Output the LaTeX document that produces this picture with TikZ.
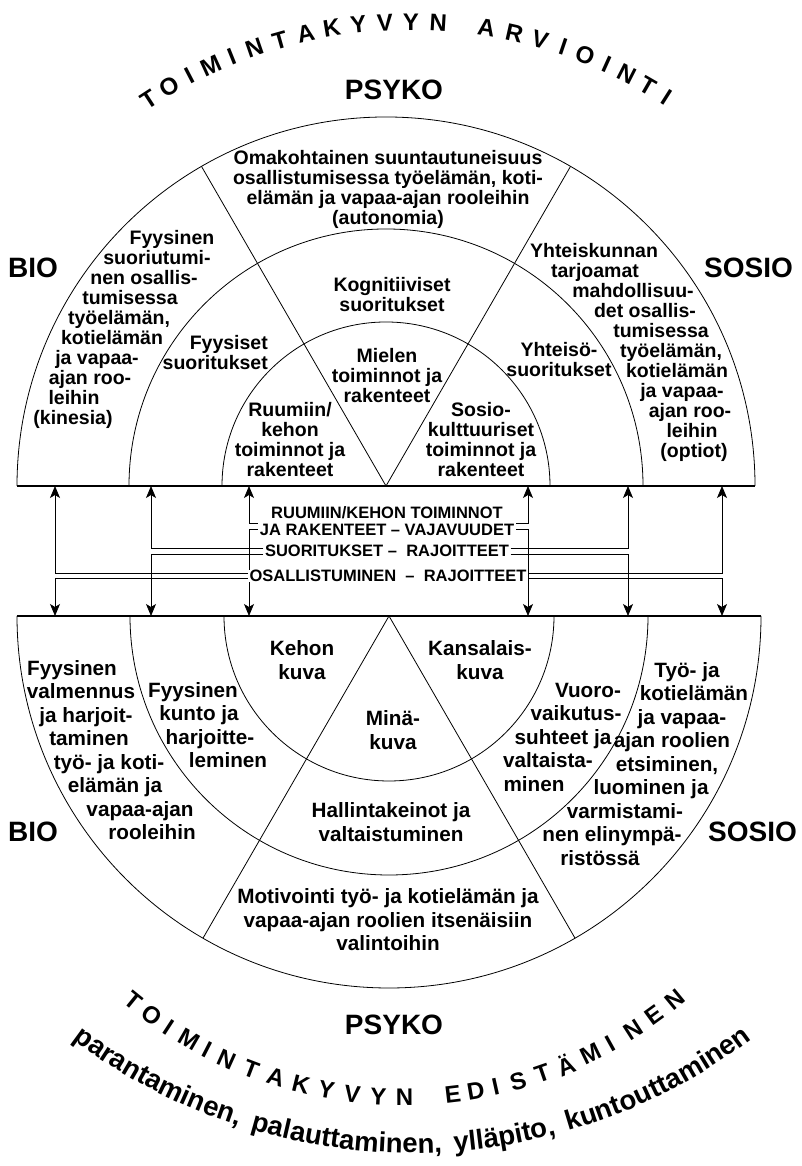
\documentclass[tikz,border=0pt]{standalone}
\usepackage{fontspec}
\setmainfont{Liberation Sans}
\usetikzlibrary{arrows.meta, backgrounds, decorations.text}

\begin{document}
\begin{tikzpicture}[x=1pt, y=1pt,
  ring/.style={line width=0.8pt},
  baseln/.style={line width=1.4pt},
  sidelab/.style={font=\fontsize{28}{28}\selectfont\bfseries, inner sep=0pt},
  utxt/.style={font=\fontsize{19.5}{20}\selectfont\bfseries, inner sep=0pt, align=center},
  ltxt/.style={font=\fontsize{20.7}{23.5}\selectfont\bfseries, inner sep=0pt, align=center},
  uline/.style={utxt, text height=14pt, text depth=4pt},
  lline/.style={ltxt, text height=15pt, text depth=4pt},
  barlab/.style={font=\fontsize{16.5}{17}\selectfont\bfseries, fill=white, inner xsep=1.5pt, inner ysep=0.5pt, align=center},
  arcch/.style={font=\fontsize{24}{24}\selectfont\bfseries, inner sep=0pt},
  link/.style={line width=0.8pt, -{Stealth[length=12pt, width=10pt, inset=3pt]}}]

\useasboundingbox (0,0) rectangle (801,1166);

% upper half: arvointi
\coordinate (U) at (386,680);
\draw[ring] (U) ++(369,0) arc (0:180:369);
\draw[ring] (U) ++(257,0) arc (0:180:257);
\draw[ring] (U) ++(164,0) arc (0:180:164);
\draw[ring] (U) -- ++(60:369);
\draw[ring] (U) -- ++(120:369);
\draw[baseln] ([xshift=-369pt]U) -- ([xshift=369pt]U);

% lower half: edistaminen
\coordinate (L) at (389,550);
\draw[ring] (L) ++(-372,0) arc (180:360:372);
\draw[ring] (L) ++(-259,0) arc (180:360:259);
\draw[ring] (L) ++(-165,0) arc (180:360:165);
\draw[ring] (L) -- ++(240:372);
\draw[ring] (L) -- ++(300:372);
\draw[baseln] ([xshift=-372pt]L) -- ([xshift=372pt]L);

\foreach \x [count=\i] in {55,151,249,528,628,722} {
  \coordinate (ua\i) at (\x,680);
  \coordinate (la\i) at (\x,550);
}

% side labels
\node[sidelab, anchor=base west] (bioU) at (8,888) {BIO};
\node[sidelab, anchor=base east] (sosioU) at (793,888) {SOSIO};
\node[sidelab, anchor=base] (psykoU) at (394,1066) {PSYKO};
\node[sidelab, anchor=base west] (bioL) at (8,324) {BIO};
\node[sidelab, anchor=base east] (sosioL) at (797,324) {SOSIO};
\node[sidelab, anchor=base] (psykoL) at (394,131) {PSYKO};

% upper texts
\node[utxt] (auton) at (388,977) {Omakohtainen suuntautuneisuus\\osallistumisessa työelämän, koti-\\elämän ja vapaa-ajan rooleihin\\(autonomia)};
\node[utxt] (kogn) at (392,871) {Kognitiiviset\\suoritukset};
\node[utxt] (miel) at (387,790) {Mielen\\toiminnot ja\\rakenteet};
\node[utxt] (ruum) at (290,726) {Ruumiin/\\kehon\\toiminnot ja\\rakenteet};
\node[utxt] (sosk) at (481,726) {Sosio-\\kulttuuriset\\toiminnot ja\\rakenteet};
\node[utxt, align=right, anchor=east] (fyyss) at (268,813) {Fyysiset\\suoritukset};
\node[utxt] (yhts) at (559,806) {Yhteisö-\\suoritukset};
\foreach \t/\x [count=\i from 0] in {Fyysinen/172, suoriutumi-/157, nen osallis-/144, tumisessa/130, {työelämän,}/119, kotielämän/112, ja vapaa-/97, ajan roo-/90, leihin/74, (kinesia)/73}
  \node[uline] (kin\i) at (\x,926-20*\i) {\t};
\foreach \t/\x [count=\i from 0] in {Yhteiskunnan/594, tarjoamat/595, mahdollisuu-/633, det osallis-/645, tumisessa/661, {työelämän,}/671, kotielämän/677, ja vapaa-/682, ajan roo-/690, leihin/692, (optiot)/694}
  \node[uline] (opt\i) at (\x,913-20*\i) {\t};

% lower texts
\node[ltxt] (kehon) at (302,506) {Kehon\\kuva};
\node[ltxt] (kans) at (480,506) {Kansalais-\\kuva};
\node[ltxt] (mina) at (393,436) {Minä-\\kuva};
\node[ltxt] (hall) at (391,344) {Hallintakeinot ja\\valtaistuminen};
\node[ltxt] (motiv) at (388,246) {Motivointi työ- ja kotielämän ja\\vapaa-ajan roolien itsenäisiin\\valintoihin};
\foreach \t/\x [count=\i from 0] in {Fyysinen/72, valmennus/81, ja harjoit-/86, taminen/89, työ- ja koti-/109, elämän ja/115, vapaa-ajan/140, rooleihin/152}
  \node[lline] (valm\i) at (\x,496-23.5*\i) {\t};
\foreach \t/\x [count=\i from 0] in {Fyysinen/193, kunto ja/199, harjoitte-/210, leminen/228}
  \node[lline] (kunto\i) at (\x,474-23.5*\i) {\t};
\foreach \t/\x [count=\i from 0] in {Vuoro-/588, vaikutus-/576, suhteet ja/563, valtaista-/548, minen/534}
  \node[lline] (vuoro\i) at (\x,474-23.5*\i) {\t};
\foreach \t/\x [count=\i from 0] in {Työ- ja/687, kotielämän/694, ja vapaa-/682, ajan roolien/672, {etsiminen,}/667, luominen ja/651, varmistami-/625, nen elinympä-/612, ristössä/600}
  \node[lline] (rool\i) at (\x,494-23.5*\i) {\t};

% middle labels and links
\node[barlab] (lab1) at (387,645) {RUUMIIN/KEHON TOIMINNOT\\JA RAKENTEET – VAJAVUUDET};
\node[barlab] (lab2) at (387,615) {SUORITUKSET – \ RAJOITTEET};
\node[barlab] (lab3) at (388,590) {OSALLISTUMINEN \ – \ RAJOITTEET};
\begin{scope}[on background layer]
  \draw[link] ([yshift=-2pt]lab1.west) -| (ua3);
  \draw[link] ([yshift=-8pt]lab1.west) -| (la3);
  \draw[link] ([yshift=-2pt]lab1.east) -| (ua4);
  \draw[link] ([yshift=-8pt]lab1.east) -| (la4);
  \draw[link] ([yshift=3pt]lab2.west) -| (ua2);
  \draw[link] ([yshift=-3pt]lab2.west) -| (la2);
  \draw[link] ([yshift=3pt]lab2.east) -| (ua5);
  \draw[link] ([yshift=-3pt]lab2.east) -| (la5);
  \draw[link] ([yshift=3pt]lab3.west) -| (ua1);
  \draw[link] ([yshift=-2pt]lab3.west) -| (la1);
  \draw[link] ([yshift=3pt]lab3.east) -| (ua6);
  \draw[link] ([yshift=-2pt]lab3.east) -| (la6);
\end{scope}

% arc titles
\foreach \ch/\a [count=\i] in {T/123.1, O/120.2, I/117.5, M/114.6, I/111.9, N/109.0, T/105.8, A/102.6, K/99.4, Y/96.2, V/93.0, Y/89.9, N/86.6, A/80.8, R/77.4, V/74.2, I/71.3, O/68.5, I/65.7, N/63.0, T/60.1, I/57.5}
  \node[arcch, rotate=\a-90] (arv\i) at ([shift={(\a:478)}]410,666) {\ch};
\foreach \ch/\a [count=\i] in {T/230.9, O/234.1, I/236.9, M/240.0, I/242.8, N/245.7, T/249.2, A/252.7, K/256.2, Y/259.7, V/263.2, Y/266.7, N/270.2, E/276.7, D/279.8, I/282.5, S/285.6, T/289.0, Ä/292.3, M/296.0, I/299.0, N/302.6, E/306.0, N/309.4}
  \node[arcch, rotate=\a+90] (edi\i) at ([shift={(\a:428)}]403,497) {\ch};
\path[decorate, decoration={text along path, text align={fit to path stretching spaces},
  text={|\fontsize{27.5}{27.5}\selectfont\bfseries|parantaminen, palauttaminen, ylläpito, kuntouttaminen}}]
  (412,577) ++(233:564) arc (233:307:564);
\end{tikzpicture}
\end{document}
